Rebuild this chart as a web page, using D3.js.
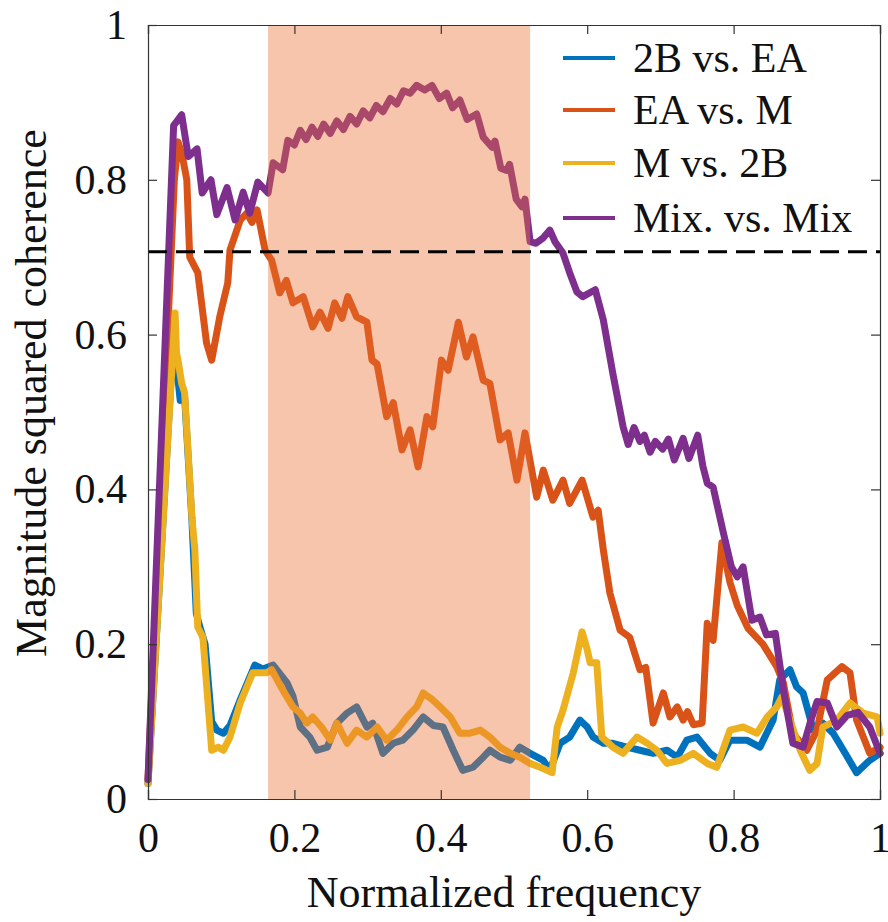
<!DOCTYPE html>
<html>
<head>
<meta charset="utf-8">
<script src="https://cdn.jsdelivr.net/npm/d3@7"></script>
<style>
  body { margin: 0; background: #fff; }
  svg text { font-family: "Liberation Serif", "DejaVu Serif", serif !important; fill: #111; }
</style>
</head>
<body>
<svg width="888" height="922"></svg>
<script>
// series: [frequency, coherence]
const blueData = [[0,0.02],[0.035,0.6],[0.039,0.56],[0.044,0.515],[0.05,0.52],[0.06,0.36],[0.066,0.24],[0.07,0.225],[0.078,0.2],[0.087,0.1],[0.094,0.089],[0.103,0.085],[0.112,0.095],[0.126,0.128],[0.146,0.173],[0.157,0.168],[0.171,0.173],[0.19,0.15],[0.198,0.133],[0.208,0.093],[0.221,0.08],[0.231,0.063],[0.245,0.067],[0.258,0.098],[0.272,0.111],[0.285,0.119],[0.299,0.093],[0.307,0.098],[0.321,0.059],[0.335,0.072],[0.348,0.076],[0.362,0.089],[0.376,0.106],[0.39,0.095],[0.403,0.093],[0.417,0.063],[0.43,0.037],[0.444,0.041],[0.458,0.054],[0.467,0.063],[0.481,0.054],[0.495,0.05],[0.508,0.067],[0.522,0.059],[0.54,0.05],[0.549,0.037],[0.563,0.072],[0.576,0.08],[0.59,0.102],[0.6,0.093],[0.608,0.08],[0.622,0.072],[0.635,0.072],[0.654,0.067],[0.672,0.063],[0.69,0.059],[0.709,0.063],[0.723,0.054],[0.736,0.076],[0.75,0.08],[0.768,0.059],[0.781,0.05],[0.795,0.076],[0.818,0.076],[0.836,0.067],[0.854,0.102],[0.863,0.154],[0.877,0.167],[0.886,0.145],[0.895,0.137],[0.909,0.089],[0.922,0.098],[0.936,0.085],[0.95,0.063],[0.968,0.034],[0.986,0.05],[1,0.059]];

const orangeData = [[0,0.025],[0.036,0.8],[0.041,0.849],[0.047,0.83],[0.053,0.8],[0.057,0.7],[0.068,0.68],[0.08,0.589],[0.087,0.567],[0.098,0.623],[0.109,0.667],[0.112,0.709],[0.126,0.748],[0.135,0.757],[0.142,0.745],[0.149,0.761],[0.16,0.709],[0.169,0.696],[0.18,0.654],[0.189,0.67],[0.198,0.641],[0.212,0.649],[0.225,0.61],[0.235,0.629],[0.246,0.608],[0.255,0.641],[0.265,0.621],[0.273,0.649],[0.285,0.623],[0.299,0.616],[0.306,0.567],[0.313,0.562],[0.326,0.494],[0.335,0.512],[0.347,0.451],[0.358,0.477],[0.369,0.429],[0.381,0.494],[0.389,0.481],[0.401,0.567],[0.41,0.554],[0.424,0.616],[0.435,0.571],[0.444,0.597],[0.458,0.541],[0.467,0.537],[0.481,0.464],[0.492,0.473],[0.504,0.412],[0.515,0.473],[0.531,0.39],[0.54,0.425],[0.553,0.386],[0.567,0.412],[0.576,0.382],[0.593,0.412],[0.608,0.364],[0.615,0.373],[0.622,0.322],[0.631,0.266],[0.645,0.218],[0.658,0.209],[0.672,0.167],[0.68,0.17],[0.69,0.098],[0.704,0.137],[0.713,0.106],[0.723,0.119],[0.731,0.102],[0.737,0.113],[0.745,0.096],[0.757,0.098],[0.764,0.227],[0.772,0.205],[0.784,0.331],[0.795,0.28],[0.805,0.25],[0.82,0.22],[0.84,0.2],[0.859,0.171],[0.868,0.15],[0.881,0.085],[0.9,0.063],[0.914,0.089],[0.928,0.154],[0.948,0.171],[0.959,0.163],[0.968,0.102],[0.986,0.059],[1,0.067]];

const yellowData = [[0,0.02],[0.037,0.628],[0.039,0.576],[0.041,0.567],[0.046,0.537],[0.05,0.525],[0.06,0.364],[0.064,0.322],[0.068,0.222],[0.075,0.209],[0.087,0.063],[0.096,0.067],[0.103,0.063],[0.112,0.08],[0.126,0.124],[0.143,0.163],[0.162,0.163],[0.169,0.167],[0.184,0.141],[0.198,0.119],[0.208,0.111],[0.217,0.098],[0.225,0.106],[0.237,0.093],[0.249,0.076],[0.258,0.098],[0.272,0.072],[0.285,0.089],[0.299,0.08],[0.313,0.093],[0.326,0.076],[0.34,0.089],[0.354,0.106],[0.367,0.119],[0.376,0.137],[0.389,0.128],[0.399,0.119],[0.413,0.106],[0.426,0.085],[0.44,0.085],[0.454,0.089],[0.467,0.08],[0.481,0.067],[0.495,0.059],[0.508,0.054],[0.522,0.046],[0.536,0.041],[0.552,0.034],[0.559,0.093],[0.567,0.115],[0.581,0.163],[0.593,0.216],[0.6,0.193],[0.604,0.176],[0.613,0.176],[0.62,0.08],[0.635,0.067],[0.649,0.059],[0.668,0.08],[0.682,0.072],[0.695,0.063],[0.709,0.046],[0.727,0.05],[0.745,0.059],[0.764,0.046],[0.777,0.041],[0.795,0.089],[0.813,0.093],[0.832,0.085],[0.846,0.106],[0.859,0.119],[0.866,0.132],[0.877,0.102],[0.891,0.063],[0.904,0.037],[0.914,0.046],[0.922,0.093],[0.941,0.102],[0.959,0.124],[0.977,0.111],[0.996,0.106],[1,0.085]];

const purpleData = [[0,0.025],[0.035,0.87],[0.046,0.884],[0.055,0.83],[0.067,0.84],[0.074,0.783],[0.086,0.8],[0.094,0.755],[0.108,0.79],[0.119,0.748],[0.13,0.784],[0.139,0.757],[0.15,0.797],[0.164,0.783],[0.171,0.822],[0.184,0.813],[0.191,0.851],[0.2,0.845],[0.208,0.864],[0.216,0.852],[0.224,0.868],[0.232,0.856],[0.24,0.872],[0.249,0.86],[0.258,0.876],[0.267,0.865],[0.276,0.882],[0.285,0.872],[0.294,0.889],[0.303,0.88],[0.312,0.896],[0.321,0.888],[0.331,0.905],[0.34,0.898],[0.349,0.915],[0.358,0.912],[0.367,0.922],[0.378,0.916],[0.388,0.922],[0.398,0.905],[0.408,0.912],[0.416,0.893],[0.426,0.903],[0.436,0.878],[0.449,0.885],[0.458,0.855],[0.47,0.842],[0.474,0.85],[0.482,0.815],[0.49,0.812],[0.494,0.82],[0.503,0.775],[0.511,0.765],[0.515,0.775],[0.522,0.72],[0.53,0.718],[0.54,0.725],[0.549,0.735],[0.556,0.72],[0.567,0.705],[0.576,0.68],[0.586,0.655],[0.594,0.649],[0.611,0.658],[0.622,0.619],[0.635,0.55],[0.649,0.481],[0.656,0.458],[0.664,0.48],[0.672,0.462],[0.678,0.47],[0.686,0.448],[0.693,0.462],[0.703,0.452],[0.711,0.465],[0.719,0.438],[0.731,0.466],[0.739,0.44],[0.751,0.47],[0.758,0.43],[0.764,0.408],[0.772,0.403],[0.786,0.344],[0.797,0.3],[0.805,0.287],[0.813,0.3],[0.825,0.231],[0.836,0.235],[0.845,0.212],[0.857,0.214],[0.868,0.141],[0.881,0.072],[0.895,0.067],[0.905,0.1],[0.914,0.126],[0.928,0.124],[0.941,0.093],[0.955,0.108],[0.97,0.112],[0.986,0.093],[1,0.059]];

const seriesNames = ['2B vs. EA', 'EA vs. M', 'M vs. 2B', 'Mix. vs. Mix'];
const seriesColors = ['#0072BD', '#D95319', '#EDB120', '#7E2F8E'];
const band = [0.164, 0.522];
const threshold = 0.707;
const ticks = [0, 0.2, 0.4, 0.6, 0.8, 1];

const margin = {left: 148, right: 8, top: 25, bottom: 123};
const W = 888, H = 922;
const serif = '"Liberation Serif", "DejaVu Serif", serif';
const svg = d3.select('svg');

const x = d3.scaleLinear().domain([0, 1]).range([margin.left, W - margin.right]);
const y = d3.scaleLinear().domain([0, 1]).range([H - margin.bottom, margin.top]);

const line = d3.line().x(d => x(d[0])).y(d => y(d[1]));

const allSeries = [blueData, orangeData, yellowData, purpleData];

svg.selectAll('.series')
  .data(allSeries)
  .enter().append('path')
  .attr('class', 'series')
  .attr('d', line)
  .attr('fill', 'none')
  .attr('stroke', (d, i) => seriesColors[i])
  .attr('stroke-width', 7)
  .attr('stroke-linejoin', 'round')
  .attr('stroke-linecap', 'round');

// shaded band sits over the lines, semi-transparent
svg.append('rect')
  .attr('x', x(band[0]))
  .attr('y', y(1))
  .attr('width', x(band[1]) - x(band[0]))
  .attr('height', y(0) - y(1))
  .attr('fill', 'rgb(235,110,48)')
  .attr('fill-opacity', 0.4);

svg.append('line')
  .attr('x1', x(0)).attr('x2', x(1))
  .attr('y1', y(threshold)).attr('y2', y(threshold))
  .attr('stroke', '#000')
  .attr('stroke-width', 3)
  .attr('stroke-dasharray', '19,9');

// axes box with inward ticks
const axisColor = '#333';
const tickLen = 9;
svg.append('g')
  .attr('transform', `translate(0,${y(0)})`)
  .call(d3.axisBottom(x).tickValues(ticks).tickSize(-tickLen).tickPadding(tickLen + 14).tickFormat(d3.format('~g')));
svg.append('g')
  .attr('transform', `translate(${x(0)},0)`)
  .call(d3.axisLeft(y).tickValues(ticks).tickSize(-tickLen).tickPadding(tickLen + 12).tickFormat(d3.format('~g')));
svg.append('g')
  .attr('transform', `translate(0,${y(1)})`)
  .call(d3.axisTop(x).tickValues(ticks).tickSize(-tickLen).tickFormat(''));
svg.append('g')
  .attr('transform', `translate(${x(1)},0)`)
  .call(d3.axisRight(y).tickValues(ticks).tickSize(-tickLen).tickFormat(''));
svg.selectAll('g').attr('font-family', serif).attr('font-size', 42);
svg.selectAll('.tick text').attr('fill', '#111');
svg.selectAll('.domain, .tick line').attr('stroke', axisColor).attr('stroke-width', 1.2);

svg.append('text')
  .attr('x', (x(0) + x(1)) / 2 - 10)
  .attr('y', 907)
  .attr('text-anchor', 'middle')
  .attr('font-family', serif)
  .attr('font-size', 44)
  .text('Normalized frequency');

svg.append('text')
  .attr('transform', 'translate(46,393) rotate(-90)')
  .attr('text-anchor', 'middle')
  .attr('font-family', serif)
  .attr('font-size', 44)
  .text('Magnitude squared coherence');

// legend
const legend = svg.append('g');
const legendY = [58, 110, 163, 218];
seriesNames.forEach((name, i) => {
  legend.append('line')
    .attr('x1', 563).attr('x2', 615)
    .attr('y1', legendY[i]).attr('y2', legendY[i])
    .attr('stroke', seriesColors[i])
    .attr('stroke-width', 4);
  legend.append('text')
    .attr('x', 633)
    .attr('y', legendY[i] + 14)
    .attr('font-family', serif)
    .attr('font-size', 42)
    .text(name);
});
</script>
</body>
</html>
